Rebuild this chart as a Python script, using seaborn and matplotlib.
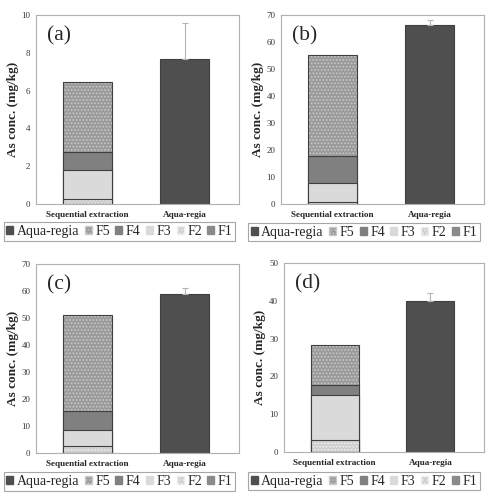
import numpy as np
import pandas as pd
import seaborn as sns
import matplotlib
matplotlib.use('Agg')
import matplotlib.pyplot as plt
from matplotlib.patches import Patch

# data (As fractions, mg/kg)
cats = ['Sequential extraction', 'Aqua-regia']
panels = ['(a)', '(b)', '(c)', '(d)']
f1 = [0.02, 0.1, 0.1, 0.1]
f2 = [0.26, 0.6, 2.6, 3.16]
f3 = [1.52, 7.1, 5.9, 11.74]
f4 = [0.96, 9.9, 6.9, 2.8]
f5 = [3.68, 37.3, 35.5, 10.5]
aqua = [7.68, 66.2, 59.0, 39.9]
aqua_err = [1.92, 2.1, 2.0, 2.2]
ymax = [10, 70, 70, 50]
ystep = [2, 10, 10, 10]
legend_labels = ['Aqua-regia', 'F5', 'F4', 'F3', 'F2', 'F1']

sns.set_style('white')
plt.rcParams['font.family'] = ['Liberation Serif', 'DejaVu Serif']
plt.rcParams['hatch.linewidth'] = 0.8

# fill styles of each fraction (F1..F5)
face = ['#8a8a8a', '#cfcfcf', '#dadada', '#808080', '#9a9a9a']
hatch = [None, '.....', None, None, '.....']
hatch_col = ['#8a8a8a', '#eeeeee', '#dadada', '#808080', '#c9c9c9']
aqua_col = '#4f4f4f'
outline = '#3f3f3f'

fig = plt.figure(figsize=(4.91, 4.99), dpi=100)
ax_pos = [[0.0733, 0.5912, 0.4135, 0.3788],
          [0.5723, 0.5912, 0.4135, 0.3788],
          [0.0733, 0.0922, 0.4135, 0.3788],
          [0.5780, 0.0942, 0.4078, 0.3788]]
leg_pos = [(0.2434, 0.536), (0.741, 0.535), (0.2434, 0.035), (0.741, 0.036)]

for k in range(4):
    ax = fig.add_axes(ax_pos[k])
    seg = [f1[k], f2[k], f3[k], f4[k], f5[k]]
    tops = np.cumsum(seg)

    # stacked bar: draw cumulative totals from the top layer down
    for i in range(4, -1, -1):
        sns.barplot(x=[cats[0]], y=[tops[i]], order=cats, color=face[i],
                    saturation=1, width=0.5, hatch=hatch[i],
                    edgecolor=hatch_col[i], linewidth=0, ax=ax)
        ax.bar(0, tops[i], width=0.5, fill=False, edgecolor=outline, linewidth=0.8)

    # aqua-regia total with upward error bar
    sns.barplot(x=[cats[1]], y=[aqua[k]], order=cats, color=aqua_col,
                saturation=1, width=0.5, edgecolor=outline, linewidth=0.8, ax=ax)
    ax.errorbar(1, aqua[k], yerr=[[0], [aqua_err[k]]], fmt='none',
                ecolor='#b5b5b5', elinewidth=0.8, capsize=2, capthick=0.8)

    ax.set_xlim(-0.53, 1.56)
    ax.set_ylim(0, ymax[k])
    ax.set_yticks(np.arange(0, ymax[k] + 1, ystep[k]))
    ax.tick_params(axis='y', length=0, pad=4, labelsize=6.5, labelcolor='#383838')
    ax.tick_params(axis='x', length=0, pad=5, labelsize=6.6)
    for t in ax.get_xticklabels():
        t.set_fontweight('bold')
    ax.set_xlabel('')
    ax.set_ylabel('As conc. (mg/kg)', fontsize=9.5, fontweight='bold', labelpad=2)
    for s in ax.spines.values():
        s.set_color('#b0b0b0')
        s.set_linewidth(0.8)

    ax.text(0.055, 0.89, panels[k], transform=ax.transAxes, fontsize=15.5,
            va='center', ha='left')

    handles = [Patch(facecolor=aqua_col, edgecolor=aqua_col)]
    for i in range(4, -1, -1):
        handles.append(Patch(facecolor=face[i], hatch=hatch[i],
                             edgecolor=hatch_col[i] if hatch[i] else face[i]))
    leg = ax.legend(handles, legend_labels, ncol=6, loc='center',
                    bbox_to_anchor=leg_pos[k], bbox_transform=fig.transFigure,
                    fontsize=10, frameon=True, fancybox=False,
                    handlelength=0.5, handleheight=0.5, handletextpad=0.25,
                    columnspacing=0.4, borderpad=0.2, borderaxespad=0)
    leg.get_frame().set_edgecolor('#909090')
    leg.get_frame().set_linewidth(0.8)

plt.savefig('out.png', dpi=100)
